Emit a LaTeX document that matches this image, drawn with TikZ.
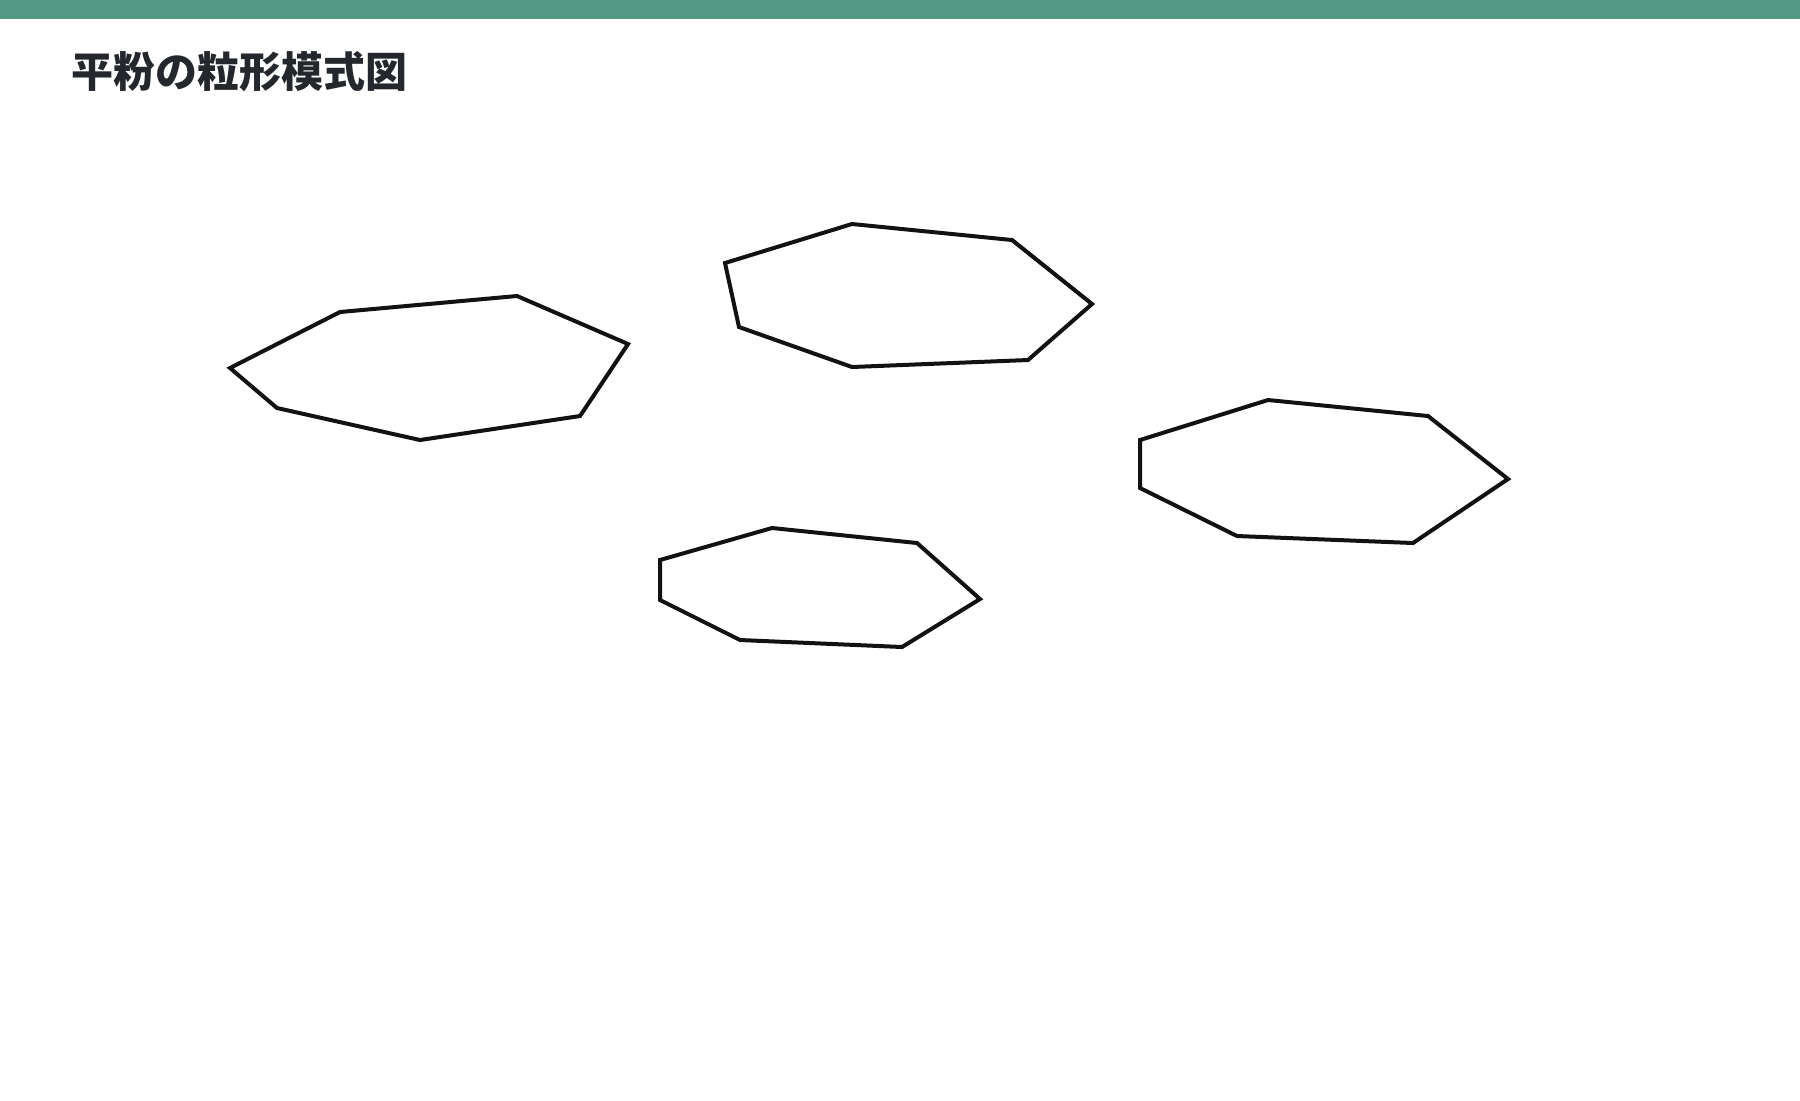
\documentclass[tikz,border=0pt]{standalone}
\usepackage{fontspec}
\newfontfamily\cjk{Noto Sans CJK JP}
\definecolor{bandgreen}{HTML}{529A85}
\definecolor{inkgray}{HTML}{24272B}
\tikzset{
  grain/.style={line width=2pt, draw=black!93},
}
\begin{document}
\begin{tikzpicture}[x=0.5pt,y=-0.5pt]
			\useasboundingbox (0,0) rectangle (1800,1100);
			\fill[bandgreen] (0,0) rectangle (1800,19);
			\node[anchor=base west, inner sep=0pt, text=inkgray, font=\cjk\bfseries\fontsize{21pt}{25pt}\selectfont] (title) at (71,87) {平粉の粒形模式図};
			
			% flat grains
			\draw[grain] (230,368) -- (340,312) -- (517,296) -- (628,344) -- (580,416) -- (420,440) -- (277,408) -- cycle;
			\draw[grain] (725,263) -- (852,224) -- (1012,240) -- (1092,304) -- (1028,360) -- (852,367) -- (739,327) -- cycle;
			\draw[grain] (1140,440) -- (1268,400) -- (1428,416) -- (1508,479) -- (1413,543) -- (1237,536) -- (1140,488) -- cycle;
			\draw[grain] (660,560) -- (772,528) -- (917,543) -- (980,599) -- (902,647) -- (740,640) -- (660,600) -- cycle;
		\end{tikzpicture}
\end{document}
